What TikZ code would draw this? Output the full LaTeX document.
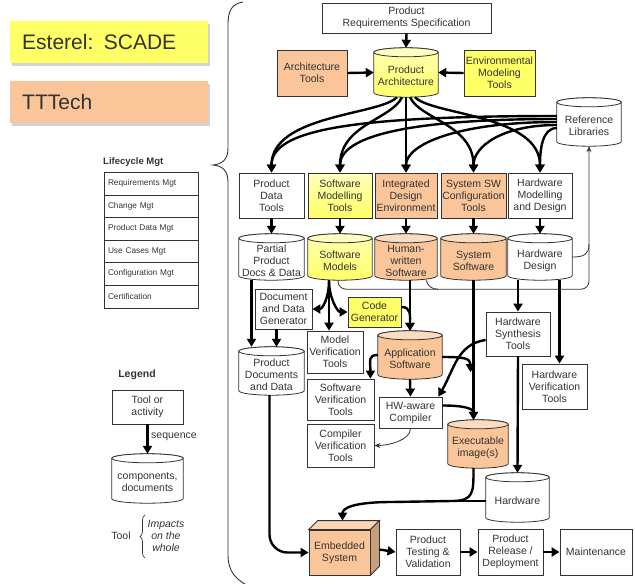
\documentclass[tikz,border=0pt]{standalone}
\usepackage{fontspec}
\setmainfont{Liberation Sans}
\usetikzlibrary{arrows.meta,calc,backgrounds,decorations.pathreplacing,shadows}
\definecolor{yel}{HTML}{FFFF66}
\definecolor{ora}{HTML}{FAC598}
\definecolor{ln}{HTML}{333333}
\newcommand\mainf{\fontsize{10.5}{12}\selectfont}
\newcommand\ct{\rule{0pt}{15pt}}
\newcommand\nd[7]{\node[#6,minimum width={#4-#2},minimum height={#5-#3}] (#1) at ({(#2+#4)/2},{(#3+#5)/2}) {#7};}
\newcommand\cylbg[3]{%
 \path let \p1=(#1.north west), \p2=(#1.south east), \n1={0.5*(\x2-\x1)} in
 [draw=ln, line width=0.8pt, #2]
 ({\x1},{\y1-4.5pt}) -- ({\x1},{\y2+4.5pt}) arc[start angle=180,end angle=360,x radius={\n1*1pt},y radius=4.5pt] -- ({\x2},{\y1-4.5pt}) arc[start angle=0,end angle=180,x radius={\n1*1pt},y radius=4.5pt] -- cycle;
 \path let \p1=(#1.north west), \p2=(#1.south east), \n1={0.5*(\x2-\x1)} in
 [draw=ln, line width=0.8pt, fill=#3]
 ({0.5*\x1+0.5*\x2},{\y1-4.5pt}) ellipse[x radius={\n1*1pt}, y radius=4.5pt];}
\begin{document}
\begin{tikzpicture}[x=1pt,y=-1pt,
  box/.style={draw=ln, line width=0.8pt, fill=white, align=center, inner sep=1pt, text=ln, font=\mainf},
  cyl/.style={draw=none, align=center, inner sep=1pt, text=ln, font=\mainf},
  lrow/.style={draw=ln, line width=0.6pt, text width=86pt, align=left, inner xsep=4pt, inner ysep=0pt, text=ln, font=\fontsize{8.3}{10}\selectfont},
  arr/.style={draw=black, line width=2.4pt, -{Triangle[length=8pt,width=9pt]}},
  thinl/.style={draw=ln, line width=0.8pt},
  thinarr/.style={draw=ln, line width=0.8pt, -{Stealth[length=6pt,width=5pt]}},
  brand/.style={minimum height=42pt, text width=174pt, inner xsep=12pt, align=left, anchor=west, text=ln, font=\fontsize{21}{24}\selectfont, drop shadow={shadow xshift=2pt, shadow yshift=-3pt, opacity=0.35}}
]
\useasboundingbox (0,0) rectangle (635,584);

% brand boxes
\node[brand, fill=yel] (est) at (10,42) {Esterel: SCADE};
\node[brand, fill=ora] (ttt) at (10,102) {TTTech};

% lifecycle
\node[anchor=west, font=\bfseries\fontsize{9.5}{11}\selectfont, text=ln, inner sep=0pt] (lcm) at (103,162) {Lifecycle Mgt};
\nd{l1}{104}{172}{198}{195}{lrow}{Requirements Mgt}
\nd{l2}{104}{195}{198}{217}{lrow}{Change Mgt}
\nd{l3}{104}{217}{198}{240}{lrow}{Product Data Mgt}
\nd{l4}{104}{240}{198}{262}{lrow}{Use Cases Mgt}
\nd{l5}{104}{262}{198}{285}{lrow}{Configuration Mgt}
\nd{l6}{104}{285}{198}{308}{lrow}{Certification}

% big brace
\draw[ln, line width=0.9pt] (243,2) .. controls (232,4) and (228,10) .. (228,25) -- (228,148) .. controls (228,160) and (222,164) .. (213,165) .. controls (222,166) and (228,170) .. (228,182) -- (228,555) .. controls (228,572) and (236,580) .. (252,588);

% legend
\node[font=\bfseries\mainf, text=ln, inner sep=0pt] (lg) at (137,375) {Legend};
\nd{lt}{112}{390}{183}{424}{box}{Tool or\\activity}
\nd{lc}{112}{454}{183}{503}{cyl}{\ct components,\\documents}
\draw[arr] (lt.south) -- (lc.north);
\node[anchor=west, font=\mainf, text=ln, inner sep=0pt] (seq) at (151,437) {sequence};
\node[font=\mainf, text=ln, inner sep=0pt] (tl) at (121,536) {Tool};
\node[font=\itshape\mainf, text=ln, align=center, inner sep=0pt] (imp) at (166,536) {Impacts\\on the\\whole};
\draw[ln, line width=0.7pt, decorate, decoration={brace, amplitude=5pt}] (145,558) -- (145,515);

% main nodes
\nd{prs}{322}{3}{491}{33}{box}{Product\\Requirements Specification}
\nd{at}{277}{50}{347}{96}{box,fill=ora}{Architecture\\Tools}
\nd{pa}{374}{48}{438}{97}{cyl}{\ct Product\\Architecture}
\nd{emt}{464}{50}{535}{96}{box,fill=yel}{Environmental\\Modeling\\Tools}
\nd{rl}{557}{98}{621}{146}{cyl}{\ct Reference\\Libraries}

\nd{pdt}{239}{173}{304}{218}{box}{Product\\Data\\Tools}
\nd{smt}{308}{173}{372}{218}{box,top color=yel!45!white,bottom color=yel}{Software\\Modelling\\Tools}
\nd{ide}{375}{173}{437}{218}{box,fill=ora}{Integrated\\Design\\Environment}
\nd{ssc}{441}{173}{506}{218}{box,fill=ora}{System SW\\Configuration\\Tools}
\nd{hmd}{508}{173}{572}{218}{box}{Hardware\\Modelling\\and Design}

\nd{ppd}{239}{234}{304}{280}{cyl}{\ct Partial\\Product\\Docs \& Data}
\nd{swm}{308}{234}{372}{280}{cyl}{\ct Software\\Models}
\nd{hws}{375}{234}{437}{280}{cyl}{\ct Human-\\written\\Software}
\nd{sss}{441}{234}{506}{280}{cyl}{\ct System\\Software}
\nd{hwd}{508}{234}{572}{280}{cyl}{\ct Hardware\\Design}

\nd{dg}{255}{289}{312}{329}{box}{Document\\and Data\\Generator}
\nd{cg}{348}{297}{401}{327}{box,fill=yel}{Code\\Generator}
\nd{mvt}{307}{331}{363}{373}{box}{Model\\Verification\\Tools}
\nd{pdd}{239}{347}{304}{395}{cyl}{\ct Product\\Documents\\and Data}
\nd{aps}{378}{331}{442}{379}{cyl}{\ct Application\\Software}
\nd{swv}{307}{379}{374}{420}{box}{Software\\Verification\\Tools}
\nd{hwc}{379}{397}{442}{428}{box}{HW-aware\\Compiler}
\nd{cvt}{307}{424}{374}{467}{box}{Compiler\\Verification\\Tools}
\nd{exe}{448}{420}{508}{468}{cyl}{\ct Executable\\image(s)}
\nd{hst}{486}{312}{550}{356}{box}{Hardware\\Synthesis\\Tools}
\nd{hvt}{522}{364}{587}{409}{box}{Hardware\\Verification\\Tools}
\nd{hw}{486}{473}{549}{522}{cyl}{\ct Hardware}
\nd{ems}{309}{530}{370}{575}{box,fill=ora}{Embedded\\System}
\nd{ptv}{396}{529}{460}{575}{box}{Product\\Testing \&\\Validation}
\nd{prd}{478}{529}{543}{575}{box}{Product\\Release /\\Deployment}
\nd{mnt}{560}{529}{632}{575}{box}{Maintenance}

% cylinders on background
\begin{scope}[on background layer]
\cylbg{lc}{fill=white}{white}
\cylbg{pa}{top color=yel!50!white,bottom color=yel}{yel!40!white}
\cylbg{rl}{fill=white}{white}
\cylbg{ppd}{fill=white}{white}
\cylbg{swm}{top color=yel!50!white,bottom color=yel}{yel!40!white}
\cylbg{hws}{fill=ora}{ora!60!white}
\cylbg{sss}{fill=ora}{ora!60!white}
\cylbg{hwd}{fill=white}{white}
\cylbg{pdd}{fill=white}{white}
\cylbg{aps}{fill=ora}{ora!60!white}
\cylbg{exe}{fill=ora}{ora!60!white}
\cylbg{hw}{fill=white}{white}
\end{scope}

% 3D embedded box faces
\draw[ln, line width=0.8pt, fill=ora!70!white] (ems.north west) -- ($(ems.north west)+(9,-9)$) -- ($(ems.north east)+(9,-9)$) -- (ems.north east) -- cycle;
\draw[ln, line width=0.8pt, fill=ora!80!black] (ems.north east) -- ($(ems.north east)+(9,-9)$) -- ($(ems.south east)+(9,-9)$) -- (ems.south east) -- cycle;

% top connectors
\draw[arr] (prs.south) -- (pa.north);
\draw[arr] (at.east) -- (pa.west);
\draw[arr] (emt.west) -- (pa.east);

% fan from product architecture
\draw[arr] ([xshift=-9pt]pa.south) .. controls +(-17,18) and +(0,-58) .. (pdt.north);
\draw[arr] ([xshift=-4pt]pa.south) .. controls +(-10,22) and +(0,-48) .. (smt.north);
\draw[arr] (pa.south) -- (ide.north);
\draw[arr] ([xshift=4pt]pa.south) .. controls +(10,22) and +(0,-48) .. (ssc.north);
\draw[arr] ([xshift=9pt]pa.south) .. controls +(17,18) and +(0,-58) .. (hmd.north);

% fan from reference libraries
\draw[arr] ([yshift=6pt]rl.west) .. controls +(-210,0) and +(0,-42) .. (pdt.north);
\draw[arr] ([yshift=3pt]rl.west) .. controls +(-150,0) and +(0,-36) .. (smt.north);
\draw[arr] (rl.west) .. controls +(-100,0) and +(0,-28) .. (ide.north);
\draw[arr] ([yshift=-3pt]rl.west) .. controls +(-55,0) and +(0,-26) .. (ssc.north);
\draw[arr] ([yshift=-6pt]rl.west) .. controls +(-15,0) and +(0,-22) .. (hmd.north);

% row 1 -> row 2
\draw[arr] (pdt.south) -- (ppd.north);
\draw[arr] (smt.south) -- (swm.north);
\draw[arr] (ide.south) -- (hws.north);
\draw[arr] (ssc.south) -- (sss.north);
\draw[arr] (hmd.south) -- (hwd.north);

% feedback bus to reference libraries
\coordinate (busr) at ($(hwd.south)+(0,9)$);
\coordinate (busv) at ($(rl.south)+(0,98)$);
\coordinate (hk) at ($(hws.south)+(32,9)$);
\draw[thinarr, rounded corners=8pt] ([xshift=-2pt]swm.south) |- (busr -| rl.south) -- (rl.south);
\draw[thinl] (hwd.east) .. controls +(12,0) and +(0,10) .. (busv);
\draw[thinl] ($(hws.south)+(20,0)$) .. controls +(2,6) and +(-6,0) .. (hk);

% documents
\draw[arr] ($(ppd.south)+(-20,0)$) -- ($(pdd.north)+(-20,0)$);
\draw[arr] ($(dg.south)+(-7,0)$) -- ($(pdd.north)+(5,0)$);
\coordinate (swo) at ($(swm.south)+(-11,0)$);
\draw[arr] (swo) .. controls +(0,18) and +(10,0) .. (dg.east);
\draw[arr] (swo) -- (swo |- mvt.north);
\draw[arr] (swo) .. controls +(0,18) and +(-10,0) .. (cg.west);

% software flow
\draw[arr] ($(cg.east)+(0,-5)$) .. controls +(10,0) and +(0,-15) .. (aps.north);
\draw[arr] (aps.north |- hws.south) -- (aps.north);
\draw[arr] (aps.west) .. controls +(-10,0) and +(0,-18) .. ($(swv.north east)+(-4,0)$);
\draw[arr] (aps.south) -- (hwc.north);
\draw[arr] (sss.south) -- (sss.south |- exe.north);
\coordinate (j1) at ($(sss.south)+(-3,92)$);
\draw[arr] ($(aps.east)+(0,2)$) .. controls +(22,0) and +(0,-14) .. (j1);
\draw[arr] ($(hst.west)+(0,6)$) .. controls +(-28,4) and +(16,-28) .. ($(hwc.north east)+(-4,0)$);
\draw[arr] ($(hwc.east)+(0,-7)$) .. controls +(26,0) and +(0,-10) .. (sss.south |- exe.north);
\draw[thinarr] (hwc.south) .. controls +(0,12) and +(14,0) .. (cvt.east);

% hardware flow
\draw[arr] (hst.north |- hwd.south) -- (hst.north);
\coordinate (hv) at ($(hvt.north)+(5,0)$);
\draw[arr] (hv |- hwd.south) -- (hv);
\draw[arr] (hst.south) -- (hw.north);

% to embedded system
\coordinate (m1) at (452,501);
\coordinate (m2) at (392,502);
\coordinate (emstop) at ($(ems.north)+(3,-9)$);
\draw[line width=2.4pt] (hw.west |- m1) -- (m1);
\draw[arr] (sss.south |- exe.south) .. controls +(0,24) and +(22,0) .. (m1) -- (m2) .. controls +(-40,0) and +(0,-12) .. (emstop);
\draw[arr, rounded corners=18pt] ($(pdd.south)+(-2,0)$) |- (ems.west);

% bottom chain
\draw[arr] ($(ems.east)+(9,-3)$) -- (ptv.west);
\draw[arr] (ptv.east) -- (prd.west);
\draw[arr] (prd.east) -- (mnt.west);
\end{tikzpicture}
\end{document}
